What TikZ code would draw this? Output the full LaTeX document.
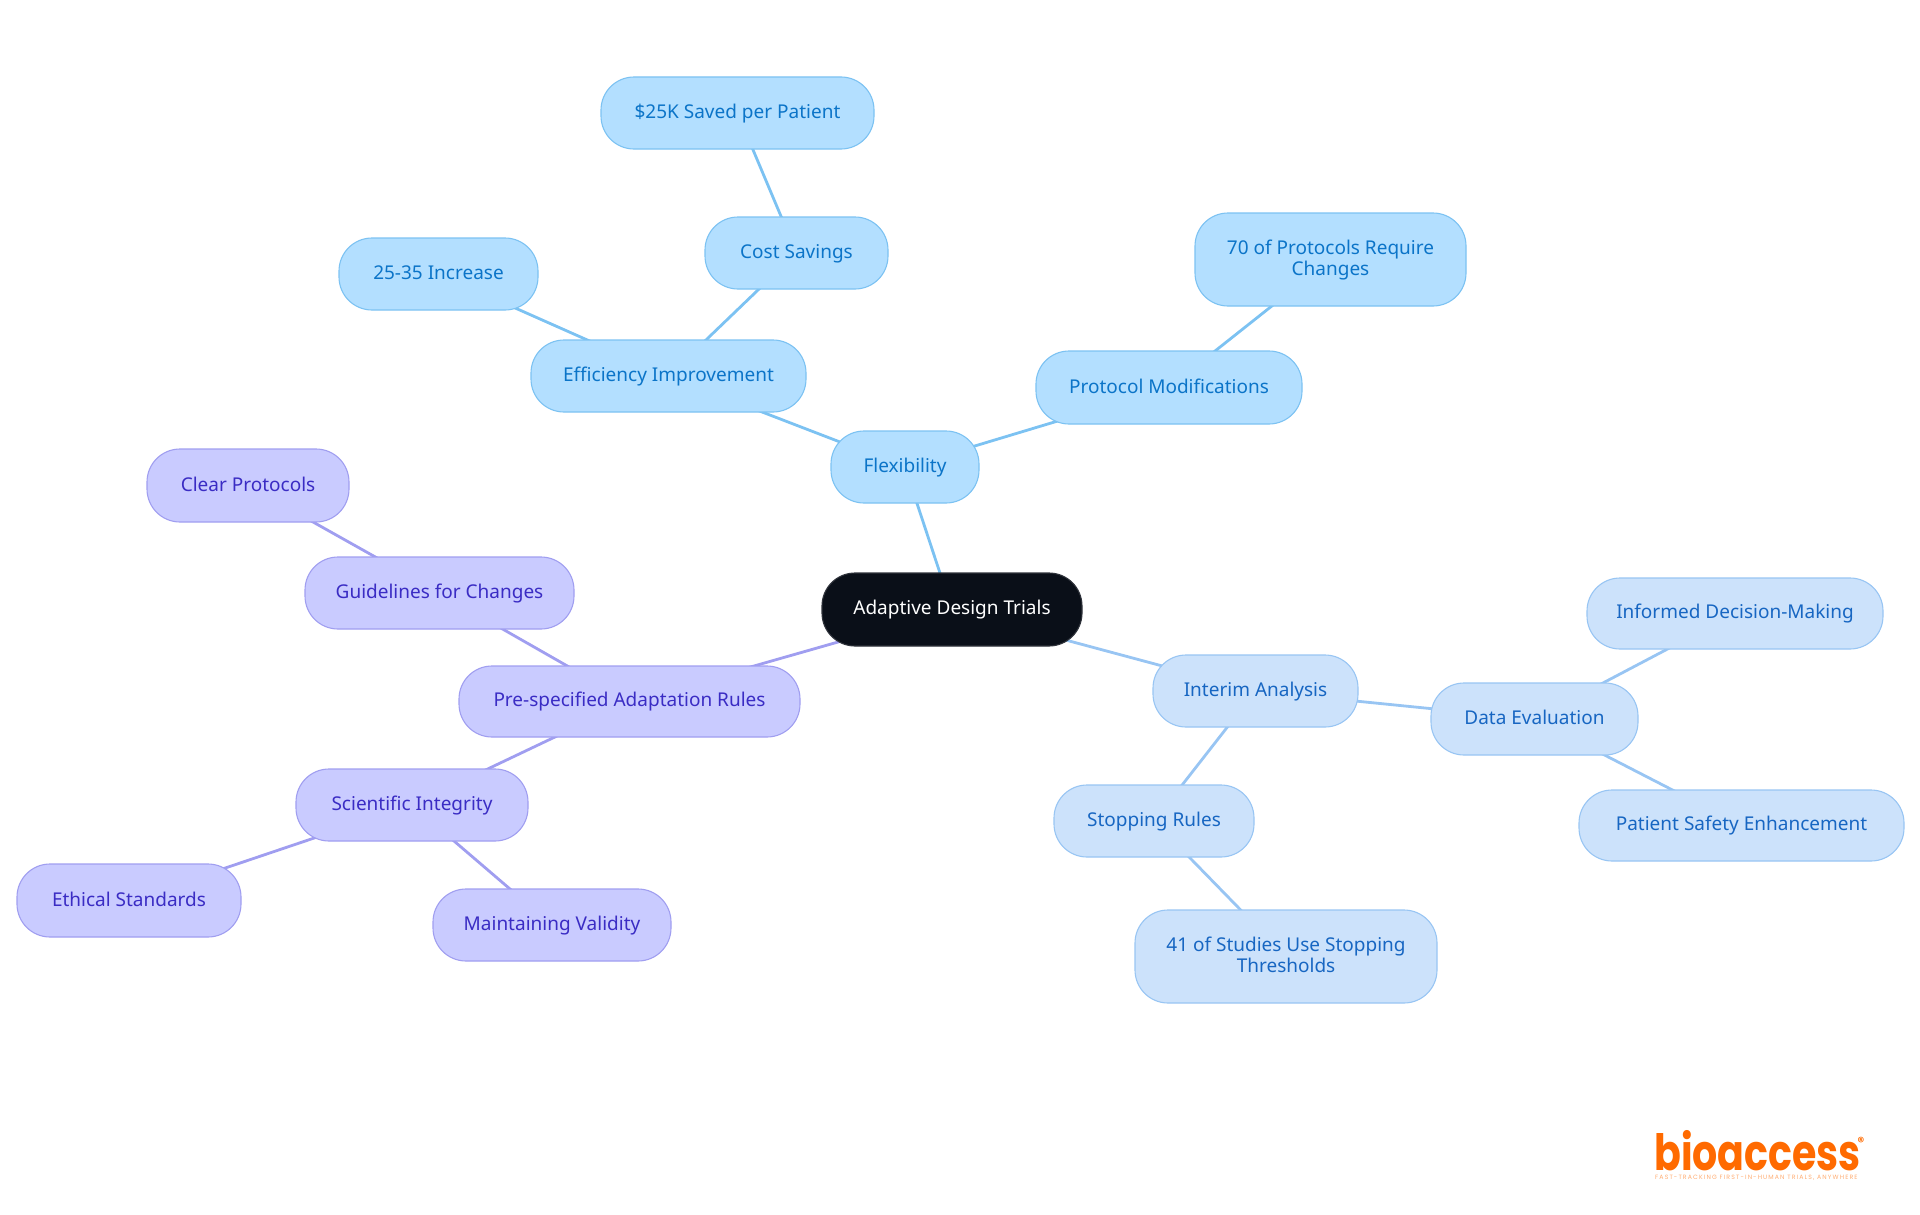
\documentclass[tikz,border=0pt]{standalone}
\usepackage{fontspec}
\usetikzlibrary{backgrounds}
\setmainfont{Noto Sans}
\newfontfamily\logofont{Poppins}[FakeStretch=0.79]
\newfontfamily\regfont{Poppins}
\newfontfamily\tagfont{Poppins}[LetterSpace=18]
\definecolor{skyfill}{HTML}{B3DFFF}
\definecolor{skyline}{HTML}{7CC2F2}
\definecolor{skytext}{HTML}{0B74C8}
\definecolor{bluefill}{HTML}{CCE2FB}
\definecolor{blueline}{HTML}{98C5F3}
\definecolor{bluetext}{HTML}{1766C2}
\definecolor{purpfill}{HTML}{C9CBFF}
\definecolor{purpline}{HTML}{A09EF0}
\definecolor{purptext}{HTML}{3A2CC4}
\definecolor{rootfill}{HTML}{0A0F18}
\definecolor{logoor}{HTML}{FF6A00}
\tikzset{
  x=1pt,y=-1pt,
  box/.style={rectangle,rounded corners=33pt,line width=1.1pt,inner sep=0pt,
    font=\fontsize{19}{21}\selectfont,align=center},
  sky/.style={box,draw=skyline,fill=skyfill,text=skytext},
  blu/.style={box,draw=blueline,fill=bluefill,text=bluetext},
  pur/.style={box,draw=purpline,fill=purpfill,text=purptext},
  rootbox/.style={box,draw=rootfill!85!white,fill=rootfill,text=white},
  skyedge/.style={draw=skyline,line width=2.8pt},
  bluedge/.style={draw=blueline,line width=2.8pt},
  puredge/.style={draw=purpline,line width=2.8pt},
}
\newcommand{\st}{\rule[-4pt]{0pt}{19pt}}
\newcommand{\bx}[7]{\node[#1,minimum width=#5pt-#4pt,minimum height=#7pt-#6pt] (#2) at ({(#4+#5)/2},{(#6+#7)/2}) {#3};}
\begin{document}
\begin{tikzpicture}
\useasboundingbox (0,0) rectangle (1920,1215);
\bx{rootbox}{root}{\st Adaptive Design Trials}{822}{1082}{573}{646}
\bx{sky}{flex}{\st Flexibility}{831}{979}{431}{503}
\bx{sky}{eff}{\st Efficiency Improvement}{531}{806}{340}{412}
\bx{sky}{prot}{\st Protocol Modifications}{1036}{1302}{351}{424}
\bx{sky}{cost}{\st Cost Savings}{705}{888}{217}{289}
\bx{sky}{saved}{\st \$25K Saved per Patient}{601}{874}{77}{149}
\bx{sky}{incr}{\st 25-35 Increase}{339}{538}{238}{310}
\bx{sky}{seventy}{\st 70 of Protocols Require\\\st Changes}{1195}{1466}{213}{306}
\bx{blu}{interim}{\st Interim Analysis}{1153}{1358}{655}{727}
\bx{blu}{data}{\st Data Evaluation}{1431}{1638}{683}{755}
\bx{blu}{informed}{\st Informed Decision-Making}{1587}{1883}{578}{649}
\bx{blu}{patient}{\st Patient Safety Enhancement}{1579}{1904}{790}{861}
\bx{blu}{stopping}{\st Stopping Rules}{1054}{1254}{785}{857}
\bx{blu}{fortyone}{\st 41 of Studies Use Stopping\\\st Thresholds}{1135}{1437}{910}{1003}
\bx{pur}{pre}{\st Pre-specified Adaptation Rules}{459}{800}{666}{737}
\bx{pur}{guide}{\st Guidelines for Changes}{305}{574}{557}{629}
\bx{pur}{clear}{\st Clear Protocols}{147}{349}{449}{522}
\bx{pur}{sci}{\st Scientific Integrity}{296}{528}{769}{841}
\bx{pur}{ethical}{\st Ethical Standards}{17}{241}{864}{937}
\bx{pur}{maintain}{\st Maintaining Validity}{433}{671}{889}{961}
\begin{scope}[on background layer]
\draw[skyedge] (root.center) -- (flex.center);
\draw[skyedge] (flex.center) -- (eff.center);
\draw[skyedge] (flex.center) -- (prot.center);
\draw[skyedge] (eff.center) -- (cost.center);
\draw[skyedge] (eff.center) -- (incr.center);
\draw[skyedge] (cost.center) -- (saved.center);
\draw[skyedge] (prot.center) -- (seventy.center);
\draw[bluedge] (root.center) -- (interim.center);
\draw[bluedge] (interim.center) -- (data.center);
\draw[bluedge] (interim.center) -- (stopping.center);
\draw[bluedge] (data.center) -- (informed.center);
\draw[bluedge] (data.center) -- (patient.center);
\draw[bluedge] (stopping.center) -- (fortyone.center);
\draw[puredge] (root.center) -- (pre.center);
\draw[puredge] (pre.center) -- (guide.center);
\draw[puredge] (pre.center) -- (sci.center);
\draw[puredge] (guide.center) -- (clear.center);
\draw[puredge] (sci.center) -- (ethical.center);
\draw[puredge] (sci.center) -- (maintain.center);
\end{scope}
\node[anchor=base west,inner sep=0pt,text=logoor,font=\logofont\bfseries\fontsize{50}{50}\selectfont] (logo) at (1654,1170) {bioaccess};
\node[anchor=center,inner sep=0pt,text=logoor,font=\regfont\bfseries\fontsize{13}{13}\selectfont] (reg) at (1861,1142) {®};
\node[anchor=base west,inner sep=0pt,text=logoor!55!white,font=\tagfont\fontsize{6.2}{6.2}\selectfont] (tag) at (1655,1179) {FAST-TRACKING FIRST-IN-HUMAN TRIALS, ANYWHERE};
\end{tikzpicture}
\end{document}
